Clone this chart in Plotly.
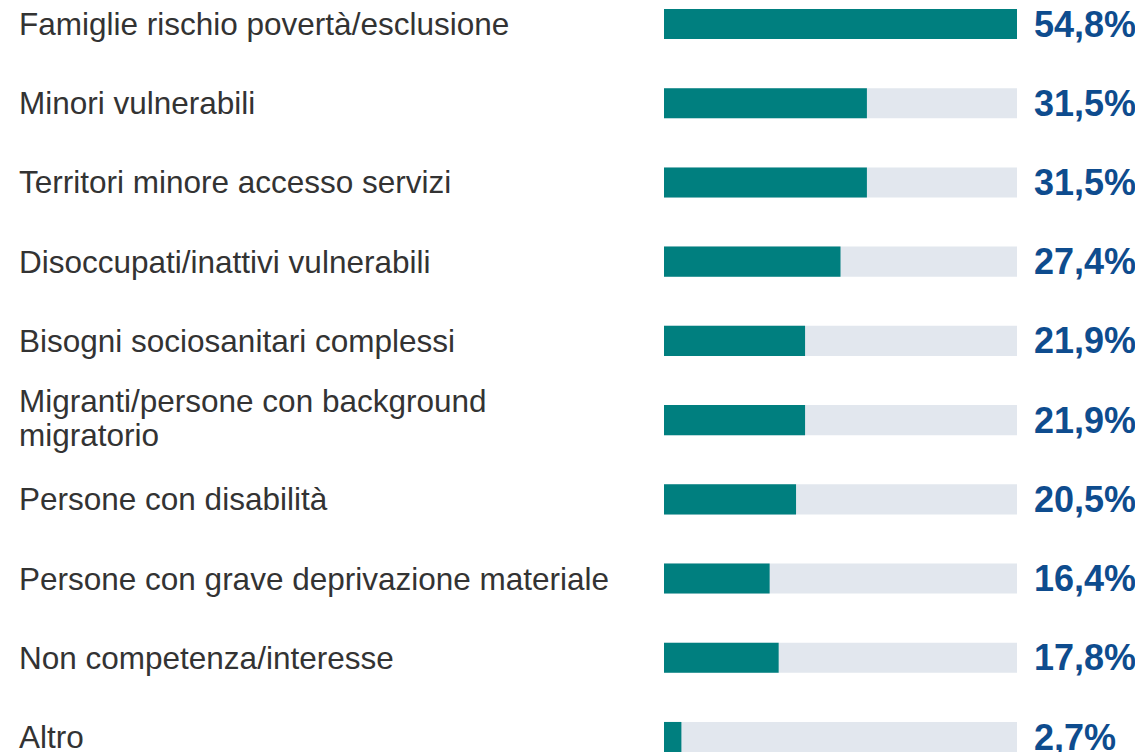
import plotly.graph_objects as go

# Dati
categories = [
    "Famiglie rischio povertà/esclusione",
    "Minori vulnerabili",
    "Territori minore accesso servizi",
    "Disoccupati/inattivi vulnerabili",
    "Bisogni sociosanitari complessi",
    "Migranti/persone con background<br>migratorio",
    "Persone con disabilità",
    "Persone con grave deprivazione materiale",
    "Non competenza/interesse",
    "Altro",
]
values = [54.8, 31.5, 31.5, 27.4, 21.9, 21.9, 20.5, 16.4, 17.8, 2.7]
value_labels = ["54,8%", "31,5%", "31,5%", "27,4%", "21,9%", "21,9%", "20,5%", "16,4%", "17,8%", "2,7%"]

# la pagina html aggiunge un margine di 8px attorno alla figura
OFF = 8
W, H = 1143 - OFF, 752 - OFF
TEAL = "#007F7F"
TRACK = "#E2E7EE"
BLUE = "#0E4C8E"
GREY = "#333333"
FONT = "Arial, Liberation Sans, sans-serif"

track_max = max(values)

fig = go.Figure()

# barra di sfondo
fig.add_trace(go.Bar(
    y=categories,
    x=[track_max] * len(categories),
    orientation="h",
    marker_color=TRACK,
    marker_line_width=0,
    width=0.38,
    hoverinfo="skip",
))

# barra valore
fig.add_trace(go.Bar(
    y=categories,
    x=values,
    orientation="h",
    marker_color=TEAL,
    marker_line_width=0,
    width=0.38,
    hovertemplate="%{y}: %{x}%<extra></extra>",
))

annotations = []
for cat, lab in zip(categories, value_labels):
    lines = cat.split("<br>")
    n = len(lines)
    for i, line in enumerate(lines):
        shift = (n - 1) * 17 - i * 34
        if n > 1:
            shift += 2
        annotations.append(dict(
            xref="paper", yref="y", x=(20 - OFF - 3) / W, y=cat,
            text=line, showarrow=False, xanchor="left", yanchor="middle",
            yshift=shift,
            font=dict(family=FONT, size=31.5, color=GREY),
        ))
    annotations.append(dict(
        xref="paper", yref="y", x=(1035 - OFF - 3) / W, y=cat,
        text="<b>" + lab + "</b>", showarrow=False, xanchor="left", yanchor="middle",
        font=dict(family=FONT, size=36, color=BLUE),
    ))

spacing = (737 - 24) / 9
top_c = 24 - OFF
bot_c = 737 - OFF
fig.update_layout(
    width=W, height=H,
    margin=dict(l=0, r=0, t=0, b=0),
    barmode="overlay",
    showlegend=False,
    plot_bgcolor="white",
    paper_bgcolor="white",
    xaxis=dict(domain=[(664 - OFF) / W, (1017 - OFF) / W], range=[0, track_max],
               visible=False, fixedrange=True),
    yaxis=dict(type="category", range=[9 + (H - bot_c) / spacing, -top_c / spacing],
               visible=False, fixedrange=True),
    annotations=annotations,
)

fig.write_html("out.html")
